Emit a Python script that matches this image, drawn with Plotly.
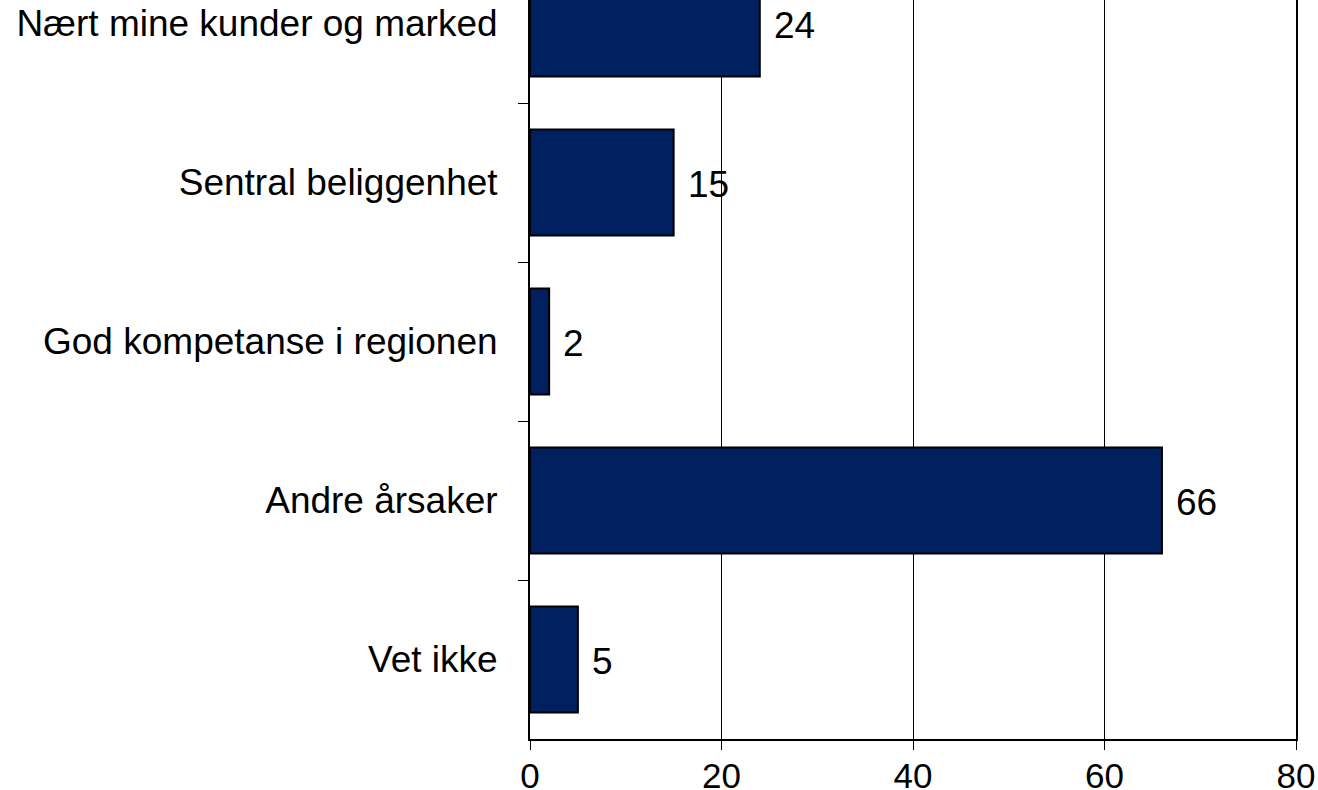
import plotly.graph_objects as go

categories = ["Nært mine kunder og marked", "Sentral beliggenhet", "God kompetanse i regionen", "Andre årsaker", "Vet ikke"]
values = [24, 15, 2, 66, 5]
x_ticks = [0, 20, 40, 60, 80]

FONT = "Arial, Liberation Sans, sans-serif"

fig = go.Figure()
fig.add_trace(go.Bar(
    y=categories, x=values, orientation="h",
    marker=dict(color="#002060", line=dict(color="black", width=2)),
    width=0.667, showlegend=False, cliponaxis=True, hoverinfo="skip",
))
for c, v in zip(categories, values):
    fig.add_annotation(x=v, y=c, text=str(v), showarrow=False, xanchor="left",
                       xshift=12, yshift=-2, font=dict(family=FONT, size=37, color="black"))

fig.update_layout(
    width=1318, height=790,
    margin=dict(l=530, r=22, t=0, b=51, autoexpand=False),
    plot_bgcolor="white", paper_bgcolor="white",
    font=dict(family=FONT, size=37, color="black"),
    bargap=0.333,
)
fig.update_xaxes(range=[0, 80], tickvals=x_ticks, ticktext=[str(t) for t in x_ticks],
                 showgrid=True, gridcolor="black", gridwidth=1,
                 showline=True, linecolor="black", linewidth=2, mirror=False,
                 ticks="outside", ticklen=9, tickcolor="black", tickwidth=1,
                 tickfont=dict(family=FONT, size=35, color="black"),
                 zeroline=False, ticklabelstandoff=-4, automargin=False)
fig.update_yaxes(type="category", categoryorder="array", categoryarray=categories,
                 range=[4.5, -0.148],
                 showline=True, linecolor="black", linewidth=2, mirror=True,
                 ticks="outside", ticklen=10, tickcolor="black", tickwidth=1,
                 tickson="boundaries", showgrid=False, ticklabelstandoff=23,
                 automargin=False)
fig.write_html("out.html", config={"displayModeBar": False},
               post_script="document.body.style.margin='0';document.body.style.overflow='hidden';")
